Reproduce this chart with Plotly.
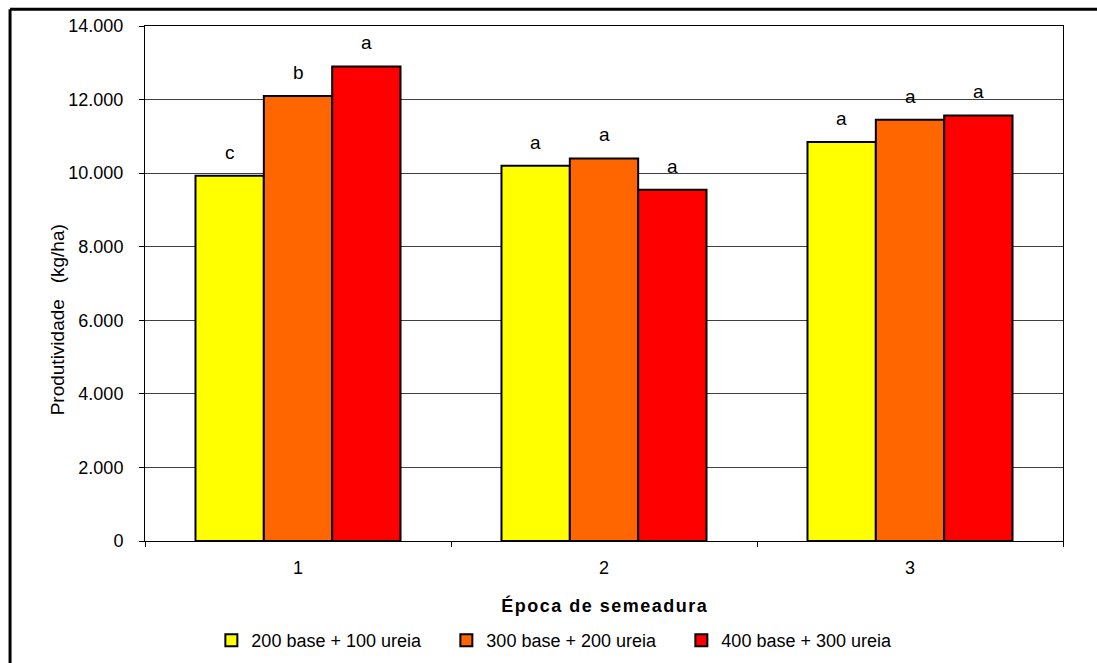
import plotly.graph_objects as go

# Produtividade por época de semeadura e dose de adubação
epocas = ["1", "2", "3"]
tratamentos = ["200 base + 100 ureia", "300 base + 200 ureia", "400 base + 300 ureia"]
cores = ["#FFFF00", "#FF6600", "#FF0000"]
produtividade = [
    [9930, 10200, 10850],   # 200 base + 100 ureia
    [12100, 10400, 11450],  # 300 base + 200 ureia
    [12900, 9550, 11570],   # 400 base + 300 ureia
]
letras = [
    ["c", "a", "a"],
    ["b", "a", "a"],
    ["a", "a", "a"],
]
y_ticks = [0, 2000, 4000, 6000, 8000, 10000, 12000, 14000]

FONT = "Liberation Sans, Arial, sans-serif"
BARGAP = 0.33

fig = go.Figure()
for nome, cor, vals in zip(tratamentos, cores, produtividade):
    fig.add_trace(go.Bar(
        x=epocas, y=vals, name=nome,
        marker=dict(color=cor, line=dict(color="black", width=2)),
    ))

# Letras de significância acima de cada barra
largura = (1 - BARGAP) / len(tratamentos)
for j, (vals, lets) in enumerate(zip(produtividade, letras)):
    for i, (v, l) in enumerate(zip(vals, lets)):
        fig.add_annotation(
            x=i + (j - 1) * largura, y=v, text=l, showarrow=False,
            yanchor="bottom", yshift=11,
            font=dict(family=FONT, size=19, color="black"),
        )

# Título do eixo Y
fig.add_annotation(
    text="Produtividade   (kg/ha)", textangle=-90, showarrow=False,
    xref="paper", yref="paper", x=-0.095, y=0.43,
    xanchor="center", yanchor="middle",
    font=dict(family=FONT, size=19, color="black"),
)

# Moldura externa
fig.add_shape(type="line", xref="paper", yref="paper",
              x0=-0.147, x1=1.2, y0=1.0325, y1=1.0325,
              line=dict(color="black", width=3))
fig.add_shape(type="line", xref="paper", yref="paper",
              x0=-0.147, x1=-0.147, y0=1.0325, y1=-0.3,
              line=dict(color="black", width=3))

titulo_x = "\u200a".join("Época de semeadura")

fig.update_layout(
    width=1097, height=663,
    margin=dict(l=145, r=34, t=26, b=122, autoexpand=False),
    paper_bgcolor="white", plot_bgcolor="white",
    barmode="group", bargap=BARGAP, bargroupgap=0,
    separators=",.",
    font=dict(family=FONT, size=18, color="black"),
    showlegend=True,
    legend=dict(
        orientation="h", xref="container", yref="container",
        x=0.514, xanchor="center", y=0.034, yanchor="middle",
        font=dict(family=FONT, size=18, color="black"),
        itemwidth=30, entrywidth=190, traceorder="normal",
    ),
    xaxis=dict(
        type="category", tickson="boundaries", ticks="outside", ticklen=5,
        tickcolor="black", showline=True, linecolor="black", linewidth=1,
        mirror=True, showgrid=False, ticklabelstandoff=10, automargin=False,
        title=dict(text="<b>" + titulo_x + "</b>", standoff=22,
                   font=dict(family=FONT, size=18, color="black")),
    ),
    yaxis=dict(
        range=[0, 14000], tickvals=y_ticks, tickformat=",d",
        ticks="outside", ticklen=5, tickcolor="black",
        showline=True, linecolor="black", linewidth=1, mirror=True,
        showgrid=True, gridcolor="#404040", gridwidth=1,
        zeroline=False, ticklabelstandoff=12, automargin=False,
    ),
)

fig.write_html("out.html")
